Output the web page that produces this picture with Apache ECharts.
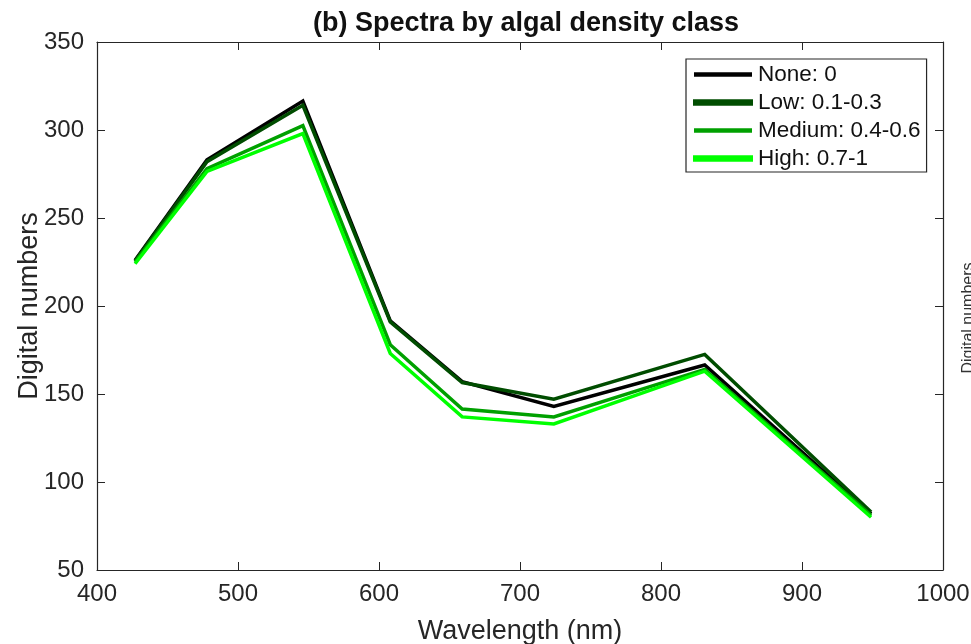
<!DOCTYPE html>
<html>
<head>
<meta charset="utf-8">
<title>Spectra by algal density class</title>
<script src="https://cdn.jsdelivr.net/npm/echarts@6/dist/echarts.min.js"></script>
<style>
  html, body { margin: 0; padding: 0; background: #fff; }
  #chart { width: 971px; height: 644px; }
</style>
</head>
<body>
<div id="chart"></div>
<script>
// Band centre wavelengths (nm)
var wavelengths = [427, 478, 546, 608, 659, 724, 831, 949];

// Mean digital numbers per algal density class
var noneValues   = [226, 283, 316.5, 191.5, 157, 143, 166.5, 82];
var lowValues    = [225.5, 282, 314, 191, 156.5, 147, 172.5, 83];
var mediumValues = [225, 278, 302.5, 178, 141.5, 137, 164, 81];
var highValues   = [224, 276.5, 298, 173, 137, 133, 163, 80];

var seriesNames = ['None: 0', 'Low: 0.1-0.3', 'Medium: 0.4-0.6', 'High: 0.7-1'];
var xTicks = [400, 500, 600, 700, 800, 900, 1000];
var yTicks = [50, 100, 150, 200, 250, 300, 350];

var axisColor = '#262626';
var fontFam = '"Liberation Sans", Arial, Helvetica, sans-serif';

function pairs(vals) {
  return wavelengths.map(function (w, i) { return [w, vals[i]]; });
}

var chart = echarts.init(document.getElementById('chart'), null, { renderer: 'canvas' });

// thin: legend swatch narrowed by a white border
var lineDefs = [
  { name: seriesNames[0], data: noneValues,   color: '#000000', thin: true },
  { name: seriesNames[1], data: lowValues,    color: '#004d00', thin: false },
  { name: seriesNames[2], data: mediumValues, color: '#00a000', thin: true },
  { name: seriesNames[3], data: highValues,   color: '#00ff00', thin: false }
];

var boxAxisCommon = {
  type: 'value',
  axisLine: { show: true, lineStyle: { color: axisColor, width: 1.2 } },
  axisTick: { show: true, inside: true, length: 8, lineStyle: { color: axisColor, width: 1 } },
  splitLine: { show: false }
};

var option = {
  animation: false,
  backgroundColor: '#ffffff',
  title: {
    text: '(b) Spectra by algal density class',
    left: 521,
    textAlign: 'center',
    top: 5,
    textStyle: { fontFamily: fontFam, fontSize: 27, fontWeight: 'bold', color: '#111' }
  },
  grid: {
    left: 97, right: 28, top: 42, bottom: 74,
    containLabel: false,
    outerBoundsMode: 'none'
  },
  legend: {
    orient: 'vertical',
    left: 686,
    top: 59,
    padding: [4, 6, 2, 6],
    itemWidth: 60,
    itemHeight: 6.5,
    itemGap: 5,
    borderColor: axisColor,
    borderWidth: 1.2,
    backgroundColor: '#fff',
    textStyle: { fontFamily: fontFam, fontSize: 22.5, lineHeight: 22, color: '#111' },
    data: lineDefs.map(function (d) {
      return {
        name: d.name,
        icon: 'rect',
        itemStyle: {
          color: d.color,
          borderColor: '#ffffff',
          borderWidth: d.thin ? 2 : 0
        }
      };
    })
  },
  xAxis: [
    Object.assign({}, boxAxisCommon, {
      position: 'bottom',
      min: xTicks[0], max: xTicks[xTicks.length - 1], interval: 100,
      name: 'Wavelength (nm)',
      nameLocation: 'middle',
      nameGap: 48,
      nameMoveOverlap: false,
      nameTextStyle: { fontFamily: fontFam, fontSize: 27, color: axisColor },
      axisLabel: {
        show: true, margin: 12, fontFamily: fontFam, fontSize: 24, color: axisColor,
        formatter: function (v) { return String(v); }
      }
    }),
    Object.assign({}, boxAxisCommon, {
      position: 'top',
      min: xTicks[0], max: xTicks[xTicks.length - 1], interval: 100,
      axisLabel: { show: false }
    })
  ],
  yAxis: [
    Object.assign({}, boxAxisCommon, {
      position: 'left',
      min: yTicks[0], max: yTicks[yTicks.length - 1], interval: 50,
      name: 'Digital numbers',
      nameLocation: 'middle',
      nameGap: 54,
      nameMoveOverlap: false,
      nameTextStyle: { fontFamily: fontFam, fontSize: 27, color: axisColor },
      axisLabel: {
        show: true, margin: 13, fontFamily: fontFam, fontSize: 24, color: axisColor,
        formatter: function (v) { return String(v); }
      }
    }),
    Object.assign({}, boxAxisCommon, {
      position: 'right',
      min: yTicks[0], max: yTicks[yTicks.length - 1], interval: 50,
      axisLabel: { show: false }
    })
  ],
  series: lineDefs.map(function (d) {
    return {
      name: d.name,
      type: 'line',
      xAxisIndex: 0,
      yAxisIndex: 0,
      data: pairs(d.data),
      symbol: 'none',
      showSymbol: false,
      color: d.color,
      lineStyle: { color: d.color, width: 3.5, join: 'miter' },
      itemStyle: { color: d.color },
      z: 2
    };
  }),
  graphic: [
    {
      type: 'text',
      x: 969,
      y: 318,
      rotation: Math.PI / 2,
      style: {
        text: 'Digital numbers',
        fontFamily: fontFam,
        fontSize: 16,
        fill: '#333',
        align: 'center',
        verticalAlign: 'middle'
      }
    }
  ]
};

chart.setOption(option);
</script>
</body>
</html>
